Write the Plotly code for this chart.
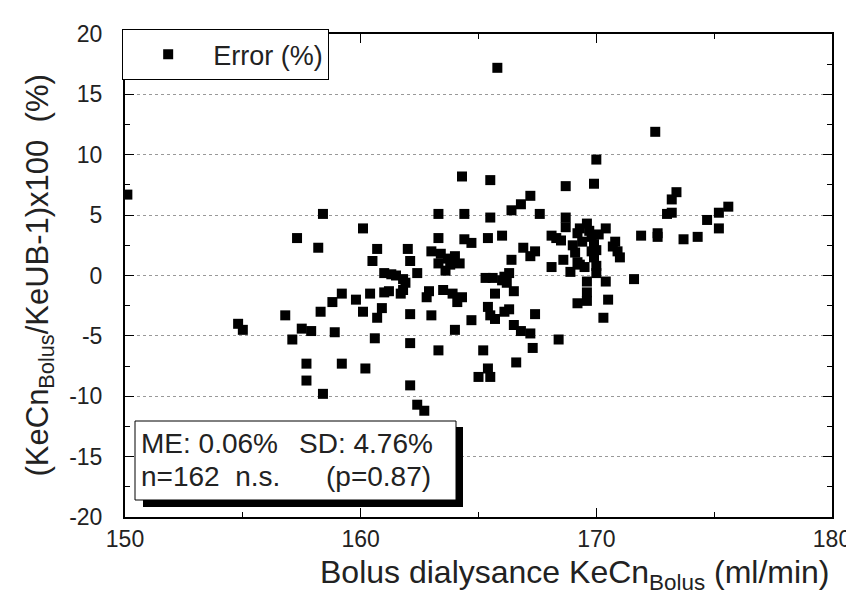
import plotly.graph_objects as go

# Bolus dialysance KeCn_Bolus (ml/min)
x_vals = [
    150.1, 154.8, 155.0, 156.8, 157.1, 157.3, 157.5, 157.7, 157.7, 157.9,
    158.2, 158.3, 158.4, 158.4, 158.8, 158.9, 159.2, 159.2, 159.8, 160.1,
    160.1, 160.2, 160.4, 160.5, 160.6, 160.7, 160.7, 160.9, 161.0, 161.0,
    161.3, 161.2, 161.7, 161.8, 161.8, 162.0, 162.1, 162.1, 162.1, 162.1,
    162.4, 162.4, 162.7, 162.8, 163.0, 163.0, 163.3, 163.3, 163.3, 163.3,
    163.5, 163.6, 163.7, 163.9, 164.0, 164.1, 164.2, 164.3, 164.4, 164.4,
    164.7, 164.7, 165.0, 165.2, 165.3, 165.4, 165.4, 165.4, 165.5, 165.5,
    165.5, 165.7, 165.7, 165.8, 166.0, 166.0, 166.1, 166.3, 166.4, 166.4,
    166.5, 166.5, 166.6, 166.8, 166.8, 166.9, 167.2, 167.2, 167.2, 167.3,
    167.4, 167.4, 167.6, 168.1, 168.1, 168.4, 168.5, 168.6, 168.7, 168.7,
    168.7, 168.9, 169.0, 169.2, 169.2, 169.2, 169.3, 169.5, 169.6, 169.6,
    169.6, 169.6, 169.8, 169.9, 169.9, 169.9, 170.0, 170.0, 170.0, 170.3,
    170.4, 170.4, 170.5, 170.8, 170.9, 171.0, 171.6, 171.9, 172.5, 172.6,
    172.6, 173.0, 173.2, 173.2, 173.4, 173.7, 174.3, 174.7, 175.2, 175.2,
    175.6, 166.1, 170.0, 169.7, 170.1, 169.4, 169.8, 169.1, 163.4, 163.8,
    164.0, 161.5, 161.9, 165.6, 166.2, 170.7, 168.3, 162.9, 164.3, 166.3,
    165.5, 169.3,
]

# Error (%) = (KeCn_Bolus / KeUB - 1) x 100
y_vals = [
    6.7, -4.0, -4.5, -3.3, -5.3, 3.1, -4.4, -7.3, -8.7, -4.6,
    2.3, -3.0, 5.1, -9.8, -2.2, -4.7, -1.5, -7.3, -2.0, 3.9,
    -3.0, -7.7, -1.5, 1.2, -5.2, 2.2, -3.5, -2.7, 0.2, -1.4,
    0.1, -1.3, -1.5, -0.3, -1.2, 2.2, 1.2, -3.2, -5.6, -9.1,
    0.2, -10.7, -11.2, -1.8, 2.0, -3.3, 5.1, 3.1, 1.0, -6.2,
    -1.2, 0.4, 1.4, -1.5, -4.5, -2.2, 1.0, 8.2, 5.1, 3.0,
    2.7, -3.7, -8.4, -6.2, -0.2, 3.1, -2.6, -7.7, 7.9, 4.8,
    -8.4, -1.5, -3.6, 17.2, 3.3, -0.4, -3.0, 0.2, 5.4, 1.3,
    -1.3, -4.1, -7.2, 5.9, -4.6, 2.3, 6.6, 1.6, -4.8, -6.0,
    2.0, -3.2, 5.1, 3.3, 0.7, -5.3, 2.9, 1.3, 7.4, 4.8,
    4.0, 0.3, 2.5, 3.5, 1.1, -2.3, 3.9, 0.7, 4.3, -0.5,
    -1.4, -2.1, 3.2, 7.6, 2.6, 1.5, 9.6, 0.8, 2.1, -3.5,
    3.9, -0.5, -2.0, 2.8, 2.0, 1.5, -0.3, 3.3, 11.9, 3.5,
    3.2, 5.1, 5.2, 6.3, 6.9, 3.0, 3.2, 4.6, 3.9, 5.2,
    5.7, -0.1, 0.2, 3.7, 3.4, 2.8, 2.0, 1.9, 1.8, 0.9,
    1.6, 0.0, -0.6, -0.2, -0.6, 2.4, 3.1, -1.3, -1.8, -2.8,
    -3.3, 0.9,
]

x_ticks = [150, 160, 170, 180]
y_ticks = [-20, -15, -10, -5, 0, 5, 10, 15, 20]
y_tick_text = ["-20", "-15", "-10", "-5", "0", "5", "10", "15", "20"]

FONT = "Liberation Sans, Arial, sans-serif"

fig = go.Figure()
fig.add_trace(go.Scatter(
    x=x_vals, y=y_vals, mode="markers", name="Error (%)",
    marker=dict(symbol="square", size=10, color="black", line=dict(width=0)),
))

fig.update_layout(
    width=854, height=598,
    margin=dict(l=117, r=30, t=26, b=89),
    paper_bgcolor="white", plot_bgcolor="white",
    font=dict(family=FONT, color="#222", size=23),
    showlegend=True,
    legend=dict(
        x=-0.004, y=1.01, xanchor="left", yanchor="top",
        bordercolor="black", borderwidth=1, bgcolor="white",
        font=dict(size=27, family=FONT, color="#222"),
        itemwidth=80,
    ),
    xaxis=dict(
        range=[150, 180], tickvals=x_ticks, ticks="inside", ticklen=9,
        tickwidth=1, tickcolor="black", showline=True, linecolor="black",
        linewidth=2, mirror="allticks", showgrid=False, zeroline=False,
        minor=dict(dtick=5, ticks="inside", ticklen=5, tickcolor="black", showgrid=False),
        tickfont=dict(size=23, family=FONT, color="#222"),
    ),
    yaxis=dict(
        range=[-20, 20], tickvals=y_ticks, ticktext=y_tick_text, ticks="inside", ticklen=9,
        tickwidth=1, tickcolor="black", showline=True, linecolor="black",
        linewidth=2, mirror="allticks", showgrid=True, gridcolor="#999",
        griddash="dot", gridwidth=1, zeroline=False, ticklabelstandoff=16,
        minor=dict(dtick=2.5, ticks="inside", ticklen=5, tickcolor="black", showgrid=False),
        tickfont=dict(size=23, family=FONT, color="#222"),
    ),
)

# statistics box with drop shadow
fig.add_shape(type="rect", xref="paper", yref="paper",
              x0=(135 - 117) / 707, x1=(455 - 117) / 707,
              y0=(509 - 499) / 483, y1=(509 - 419) / 483,
              fillcolor="black", line=dict(width=0), layer="above")
fig.add_shape(type="rect", xref="paper", yref="paper",
              x0=(127 - 117) / 707, x1=(448 - 117) / 707,
              y0=(509 - 492) / 483, y1=(509 - 413) / 483,
              fillcolor="white", line=dict(color="black", width=1), layer="above")

stats = [
    ("ME: 0.06%", 131, 435),
    ("SD: 4.76%", 289, 435),
    ("n=162  n.s.", 131, 468),
    ("(p=0.87)", 316, 468),
]
for txt, px, py in stats:
    fig.add_annotation(text=txt, xref="paper", yref="paper",
                       x=(px - 117) / 707, y=(509 - py) / 483,
                       xanchor="left", yanchor="middle", showarrow=False,
                       font=dict(size=28, family=FONT, color="#222"))

# axis titles
fig.add_annotation(text="Bolus dialysance KeCn<sub>Bolus</sub> (ml/min)",
                   xref="paper", yref="paper", x=(824 - 117) / 707, y=(509 - 566) / 483,
                   xanchor="right", yanchor="middle", showarrow=False,
                   font=dict(size=32, family=FONT, color="#222"))
fig.add_annotation(text="(KeCn<sub>Bolus</sub>/KeUB-1)x100  (%)",
                   xref="paper", yref="paper", x=(31 - 117) / 707, y=0.5,
                   xanchor="center", yanchor="middle", showarrow=False, textangle=-90,
                   font=dict(size=31, family=FONT, color="#222"))

fig.write_html("out.html")
